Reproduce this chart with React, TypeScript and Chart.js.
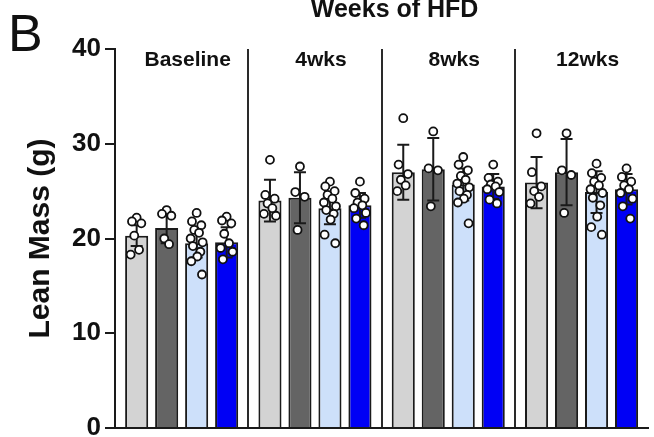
import React, { useEffect, useRef } from 'react';
import { Chart, registerables } from 'chart.js';

Chart.register(...registerables);

const FONT = "'Liberation Sans', Arial, Helvetica, sans-serif";

const PANEL_LABEL = 'B';
const TITLE = 'Weeks of HFD';
const Y_TITLE = 'Lean Mass (g)';
const GROUPS = ['Baseline', '4wks', '8wks', '12wks'];
const Y_TICKS = [0, 10, 20, 30, 40];

const SERIES = ['Group 1', 'Group 2', 'Group 3', 'Group 4'];
const COLORS = ['#d3d3d3', '#646464', '#cde0fa', '#0000f5'];

// bar heights (means) per series, one value per time point
const MEANS_1 = [20.3, 24.0, 27.0, 25.9];
const MEANS_2 = [21.1, 24.3, 27.3, 27.0];
const MEANS_3 = [19.5, 23.2, 25.7, 24.9];
const MEANS_4 = [19.6, 23.5, 25.5, 25.2];

// error bar half-lengths
const ERR_1 = [1.1, 2.2, 2.9, 2.7];
const ERR_2 = [1.6, 2.7, 3.3, 3.5];
const ERR_3 = [1.5, 1.7, 1.7, 2.2];
const ERR_4 = [1.6, 1.3, 1.3, 1.6];

// individual animals
const PTS_1 = [
  [22.2, 21.8, 21.6, 20.3, 18.8, 18.3],
  [28.3, 24.6, 24.2, 23.7, 23.2, 22.6, 22.4],
  [32.7, 27.8, 26.8, 26.2, 25.6, 25.0],
  [31.1, 27.0, 25.5, 25.0, 24.4, 23.7],
];
const PTS_2 = [
  [23.0, 22.6, 22.4, 20.0, 19.4],
  [27.6, 24.9, 24.4, 20.9],
  [31.3, 27.4, 27.2, 23.4],
  [31.1, 27.2, 26.7, 22.7],
];
const PTS_3 = [
  [22.7, 21.8, 21.4, 20.9, 20.6, 20.0, 19.6, 19.2, 18.6, 18.1, 17.6, 16.2],
  [26.0, 25.5, 25.0, 24.6, 24.2, 23.8, 23.4, 23.0, 22.6, 22.0, 20.4, 19.5],
  [28.6, 27.8, 27.2, 26.6, 26.2, 25.8, 25.4, 25.0, 24.6, 24.2, 23.8, 21.6],
  [27.9, 26.9, 26.4, 26.0, 25.6, 25.2, 24.8, 24.3, 23.5, 22.3, 21.2, 20.4],
];
const PTS_4 = [
  [22.3, 21.9, 21.6, 20.5, 19.5, 19.0, 18.6, 17.8],
  [26.0, 24.8, 24.2, 23.8, 23.5, 23.2, 22.7, 22.1, 21.4],
  [27.8, 26.4, 26.0, 25.7, 25.5, 25.2, 24.9, 24.1, 23.7],
  [27.4, 26.5, 26.0, 25.6, 25.2, 24.8, 24.2, 23.4, 22.1],
];

const MEANS = [MEANS_1, MEANS_2, MEANS_3, MEANS_4];
const ERRS = [ERR_1, ERR_2, ERR_3, ERR_4];
const POINTS = [PTS_1, PTS_2, PTS_3, PTS_4];

const CATEGORY_PCT = 0.9;
const BAR_PCT = 0.77;
// horizontal spread of dots inside a bar (category units)
const JITTER = [0, -0.035, 0.035, -0.018, 0.018, -0.045, 0.045, -0.028, 0.028, 0.005, -0.04, 0.04];

const errorBars = {
  id: 'errorBars',
  afterDatasetDraw(chart: any, args: any) {
    const si = args.index;
    if (si >= MEANS.length) return;
    const meta = args.meta;
    const y = chart.scales.y;
    const ctx = chart.ctx;
    ctx.save();
    ctx.strokeStyle = '#1a1a1a';
    ctx.lineWidth = 2;
    meta.data.forEach((el: any, g: number) => {
      const m = MEANS[si][g];
      const e = ERRS[si][g];
      const x = el.x;
      const yt = y.getPixelForValue(m + e);
      const yb = y.getPixelForValue(m - e);
      ctx.beginPath();
      ctx.moveTo(x, yt);
      ctx.lineTo(x, yb);
      ctx.moveTo(x - 6, yt);
      ctx.lineTo(x + 6, yt);
      ctx.moveTo(x - 6, yb);
      ctx.lineTo(x + 6, yb);
      ctx.stroke();
    });
    ctx.restore();
  },
};

const annotations = {
  id: 'annotations',
  afterDraw(chart: any) {
    const { ctx, chartArea, scales } = chart;
    const x = scales.x;
    ctx.save();
    ctx.fillStyle = '#111';
    ctx.textAlign = 'left';
    ctx.textBaseline = 'alphabetic';
    ctx.font = `52px ${FONT}`;
    ctx.fillText(PANEL_LABEL, 8, 51);
    ctx.font = `bold 25px ${FONT}`;
    ctx.textAlign = 'center';
    ctx.fillText(TITLE, (chartArea.left + chartArea.right) / 2 + 13, 17);
    ctx.font = `bold 21px ${FONT}`;
    ctx.textBaseline = 'middle';
    GROUPS.forEach((g, i) => {
      ctx.fillText(g, x.getPixelForValue(i) + 6, chartArea.top + 11);
    });
    ctx.restore();
  },
};

export default function App() {
  const ref = useRef<HTMLCanvasElement>(null);

  useEffect(() => {
    const canvas = ref.current;
    if (!canvas) return;

    const slot = CATEGORY_PCT / SERIES.length;
    const scatterData: { x: number; y: number }[] = [];
    POINTS.forEach((series, si) => {
      series.forEach((vals, g) => {
        vals.forEach((v, k) => {
          scatterData.push({ x: g + (si - (SERIES.length - 1) / 2) * slot + JITTER[k % JITTER.length], y: v });
        });
      });
    });

    const datasets: any[] = SERIES.map((name, i) => ({
      type: 'bar',
      label: name,
      data: MEANS[i].map((m, g) => ({ x: g, y: m })),
      backgroundColor: COLORS[i],
      borderColor: '#1a1a1a',
      borderWidth: 2,
      borderSkipped: 'bottom',
      categoryPercentage: CATEGORY_PCT,
      barPercentage: BAR_PCT,
      xAxisID: 'x',
      yAxisID: 'y',
      order: 1,
    }));
    datasets.push({
      type: 'scatter',
      label: 'Individual',
      data: scatterData,
      xAxisID: 'x',
      yAxisID: 'y',
      pointRadius: 4,
      pointBackgroundColor: '#ffffff',
      pointBorderColor: '#111111',
      pointBorderWidth: 1.8,
      showLine: false,
      order: 0,
    });

    const chart = new Chart(canvas, {
      type: 'bar',
      data: { datasets },
      options: {
        animation: false,
        responsive: false,
        devicePixelRatio: 1,
        layout: { padding: { top: 49, left: 0, right: 4, bottom: 32 } },
        plugins: { legend: { display: false }, tooltip: { enabled: false }, title: { display: false } },
        scales: {
          x: {
            type: 'linear',
            min: -0.5,
            max: GROUPS.length - 0.5,
            offset: false,
            afterBuildTicks: (s: any) => {
              s.ticks = GROUPS.map((_, i) => ({ value: i - 0.5 })).concat([{ value: GROUPS.length - 0.5 }]);
            },
            grid: {
              offset: false,
              drawTicks: false,
              lineWidth: 2,
              color: (c: any) =>
                c.type === 'tick' && c.index >= 1 && c.index <= GROUPS.length - 1 ? '#2a2a2a' : 'rgba(0,0,0,0)',
            },
            ticks: { display: false },
            border: { display: true, color: '#1a1a1a', width: 2 },
            afterFit: (s: any) => {
              s.height = 0;
            },
          },
          y: {
            type: 'linear',
            min: Y_TICKS[0],
            max: Y_TICKS[Y_TICKS.length - 1],
            afterBuildTicks: (s: any) => {
              s.ticks = Y_TICKS.map((v) => ({ value: v }));
            },
            ticks: {
              font: { family: FONT, size: 26, weight: 'bold' },
              color: '#111',
              padding: 4,
            },
            grid: { drawOnChartArea: false, drawTicks: true, tickLength: 10, color: '#1a1a1a', lineWidth: 2 },
            border: { display: true, color: '#1a1a1a', width: 2 },
            title: {
              display: true,
              text: Y_TITLE,
              color: '#111',
              font: { family: FONT, size: 30, weight: 'bold' },
              padding: { top: 23, bottom: 0 },
            },
            afterFit: (s: any) => {
              s.width = 115;
            },
          },
        },
      } as any,
      plugins: [errorBars, annotations],
    } as any);

    return () => chart.destroy();
  }, []);

  return (
    <canvas
      ref={ref}
      width={654}
      height={460}
      style={{ position: 'fixed', left: 0, top: 0, display: 'block', background: '#fff' }}
    />
  );
}
